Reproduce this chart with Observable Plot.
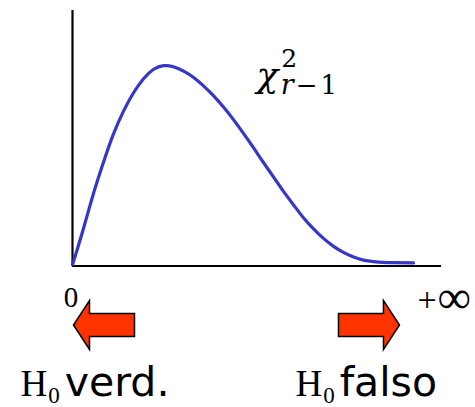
<!DOCTYPE html>
<html><head><meta charset="utf-8">
<script src="https://cdn.jsdelivr.net/npm/d3@7"></script>
<script src="https://cdn.jsdelivr.net/npm/@observablehq/plot@0.6"></script>
<style>html,body{margin:0;padding:0;background:#fff;overflow:hidden} svg{display:block}</style>
</head><body><div id="chart"></div>
<script>
// Density curve of the chi-square distribution
const curveX = [0, 0.36, 0.68, 1.01, 1.33, 1.66, 1.98, 2.31, 2.63, 2.96, 3.28, 3.61, 3.94, 4.26, 4.59, 4.91, 5.24, 5.56, 5.89, 6.21, 6.54, 6.86, 7.19, 7.51, 7.84, 8.16, 8.49, 8.81, 9.14, 9.46, 9.79, 10.11, 10.44, 11.09];
const curveY = [0.005, 0.148, 0.283, 0.407, 0.516, 0.606, 0.677, 0.733, 0.769, 0.784, 0.780, 0.763, 0.738, 0.705, 0.666, 0.622, 0.572, 0.519, 0.462, 0.405, 0.348, 0.292, 0.239, 0.189, 0.145, 0.108, 0.077, 0.053, 0.035, 0.023, 0.017, 0.014, 0.013, 0.012];
// Axis end labels
const tickValues = [0, 12];
const tickLabels = ["0", "+", "∞"];
// Decision labels and arrows
const hypothesis = ["H", "0"];
const decisionLabels = ["verd.", "falso"];
const arrowDirections = ["left", "right"];
const curveLabel = ["χ", "2", "r", "−", "1"];

const curve = curveX.map((x, i) => ({x, y: curveY[i]}));

const blockArrow = {
  draw(ctx, size) {
    const r = Math.sqrt(size / Math.PI);
    const hl = 0.525 * r, hh = 0.80 * r, sh = 0.377 * r;
    ctx.moveTo(-r, -sh); ctx.lineTo(r - hl, -sh); ctx.lineTo(r - hl, -hh); ctx.lineTo(r, 0);
    ctx.lineTo(r - hl, hh); ctx.lineTo(r - hl, sh); ctx.lineTo(-r, sh); ctx.closePath();
  }
};

const serif = "Liberation Serif, Times New Roman, serif";
const dserif = "DejaVu Serif, serif";
const sans = "DejaVu Sans, sans-serif";
const txt = {textAnchor: "start", lineAnchor: "bottom", fill: "black"};

const decX = [-1.69, 7.25], decY = -0.508;
const chiX = 5.98, chiY = 0.7006;

const plot = Plot.plot({
  width: 475, height: 407, marginLeft: 72, marginRight: 34, marginTop: 10, marginBottom: 141.5,
  x: {domain: [0, 12], axis: null}, y: {domain: [0, 1], axis: null},
  style: {background: "white", overflow: "visible"},
  marks: [
    Plot.ruleX([0], {y1: 0, y2: 1, stroke: "black", strokeWidth: 2.2}),
    Plot.ruleY([0], {x1: 0, x2: 12, stroke: "black", strokeWidth: 2.2}),
    Plot.line(curve, {x: "x", y: "y", curve: "natural", stroke: "#3636c8", strokeWidth: 3.2}),
    // axis end labels
    Plot.text([tickLabels[0]], {...txt, x: tickValues[0], y: -0.162, text: d => d, textAnchor: "middle", dx: -1.5, fontFamily: serif, fontSize: 29}),
    Plot.text([tickLabels[1]], {...txt, x: tickValues[1], y: -0.176, text: d => d, dx: -24, fontFamily: serif, fontSize: 34}),
    Plot.text([tickLabels[2]], {...txt, x: tickValues[1], y: -0.174, text: d => d, dx: -4, dy: 3, fontFamily: serif, fontSize: 47}),
    // arrows
    Plot.dot(arrowDirections, {x: [1.024, 9.642], y: -0.231, r: 30.5, symbol: blockArrow, rotate: d => d === "left" ? 180 : 0, fill: "#ff3300", stroke: "black", strokeWidth: 1.5}),
    // decision labels: H, subscript 0, word
    Plot.text(decisionLabels, {...txt, x: decX, y: decY, text: () => hypothesis[0], fontFamily: serif, fontSize: 37}),
    Plot.text(decisionLabels, {...txt, x: decX, y: decY, text: () => hypothesis[1], dx: 27.7, dy: 7, fontFamily: serif, fontSize: 23}),
    Plot.text(decisionLabels, {...txt, x: decX, y: decY, text: d => d, dx: 44.2, fontFamily: sans, fontSize: 41}),
    // chi-square label
    Plot.text([curveLabel[0]], {...txt, x: chiX, y: chiY, text: d => d, fontFamily: dserif, fontStyle: "italic", fontSize: 36}),
    Plot.text([curveLabel[1]], {...txt, x: chiX, y: chiY, text: d => d, dx: 24.8, dy: -19.5, fontFamily: dserif, fontSize: 25}),
    Plot.text([curveLabel[2]], {...txt, x: chiX, y: chiY, text: d => d, dx: 24.4, dy: 7.5, fontFamily: dserif, fontStyle: "italic", fontSize: 27}),
    Plot.text([curveLabel[3]], {...txt, x: chiX, y: chiY, text: d => d, dx: 39.3, dy: 7.5, fontFamily: dserif, fontSize: 26}),
    Plot.text([curveLabel[4]], {...txt, x: chiX, y: chiY, text: d => d, dx: 64.1, dy: 7.5, fontFamily: dserif, fontSize: 26})
  ]
});
document.getElementById("chart").appendChild(plot);
</script>
</body></html>
